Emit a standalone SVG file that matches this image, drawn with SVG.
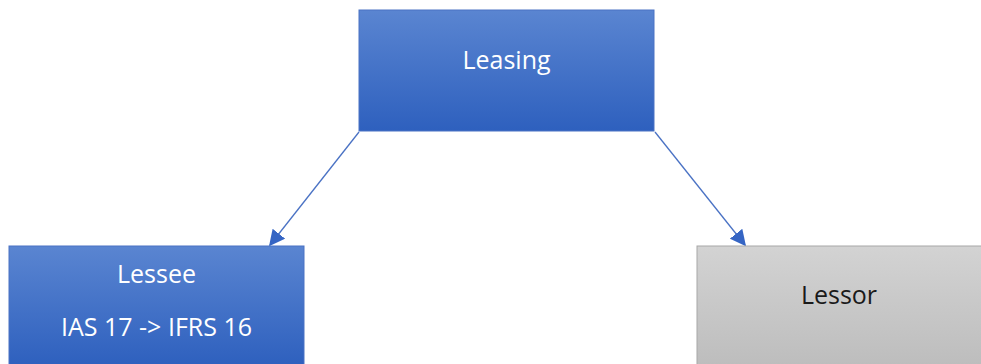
<svg xmlns="http://www.w3.org/2000/svg" width="981" height="364" viewBox="0 0 981 364">
  <style>
    .lbl { font-family: "Open Sans", "Liberation Sans", sans-serif; font-size: 25px; text-anchor: middle; }
    .light { fill: #ffffff; }
    .dark { fill: #1a1a1a; }
    .conn { stroke: #4a72c4; stroke-width: 1.3; fill: none; marker-end: url(#head); }
  </style>
  <defs>
    <linearGradient id="blue" x1="0" y1="0" x2="0" y2="1">
      <stop offset="0" stop-color="#5a85d1"/>
      <stop offset="1" stop-color="#2e60be"/>
    </linearGradient>
    <linearGradient id="gray" x1="0" y1="0" x2="0" y2="1">
      <stop offset="0" stop-color="#d3d3d3"/>
      <stop offset="1" stop-color="#bdbdbd"/>
    </linearGradient>
    <marker id="head" viewBox="0 0 10 10" refX="9" refY="5" markerWidth="16" markerHeight="16" markerUnits="userSpaceOnUse" orient="auto">
      <path d="M0,0 L10,5 L0,10 z" fill="#3565c4"/>
    </marker>
  </defs>

  <g id="connectors">
    <line class="conn" x1="359" y1="132" x2="270" y2="245"/>
    <line class="conn" x1="655" y1="132" x2="745" y2="245"/>
  </g>

  <g id="leasing">
    <rect x="359" y="10" width="295" height="121" fill="url(#blue)" stroke="#4a72c4" stroke-width="1"/>
    <text class="lbl light" x="506.5" y="69">Leasing</text>
  </g>

  <g id="lessee">
    <rect x="9" y="246" width="295" height="120" fill="url(#blue)" stroke="#4a72c4" stroke-width="1"/>
    <text class="lbl light" x="156.5" y="283">Lessee</text>
    <text class="lbl light" x="156.5" y="336">IAS 17 -&gt; IFRS 16</text>
  </g>

  <g id="lessor">
    <rect x="697" y="246" width="290" height="120" fill="url(#gray)" stroke="#a8a8a8" stroke-width="1"/>
    <text class="lbl dark" x="839" y="304">Lessor</text>
  </g>
</svg>
